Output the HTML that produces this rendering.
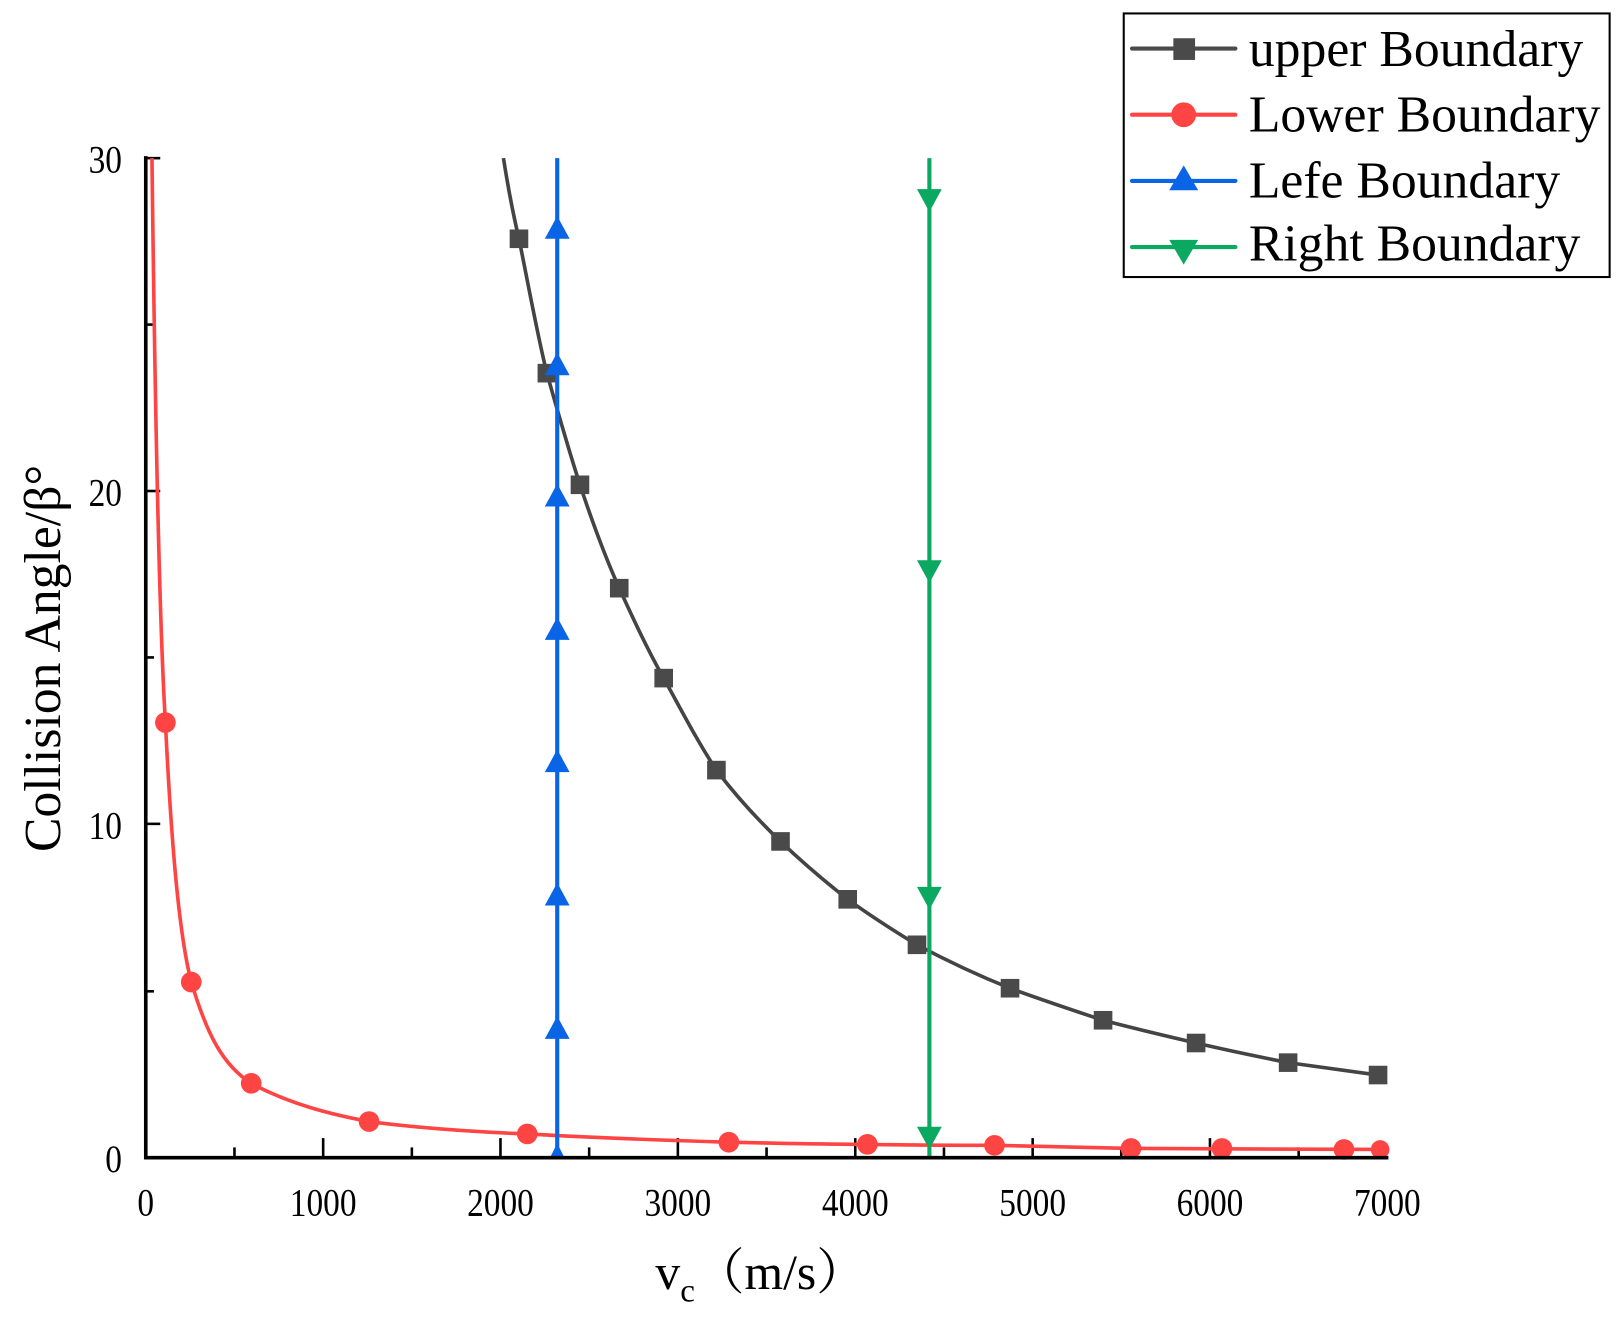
<!DOCTYPE html>
<html><head><style>html,body{margin:0;padding:0;background:#fff;}svg{display:block}</style></head>
<body>
<svg width="1621" height="1319" viewBox="0 0 1568 1276" preserveAspectRatio="none" xmlns="http://www.w3.org/2000/svg" font-family="'Liberation Serif', serif">
<rect width="1568" height="1276" fill="#fff"/>
<g stroke="#000" stroke-width="2.5">
<line x1="141" y1="153" x2="155" y2="153"/><line x1="141" y1="314" x2="149" y2="314"/>
<line x1="141" y1="475" x2="155" y2="475"/><line x1="141" y1="636" x2="149" y2="636"/>
<line x1="141" y1="797" x2="155" y2="797"/><line x1="141" y1="959" x2="149" y2="959"/>
<line x1="312.6" y1="1120" x2="312.6" y2="1101"/><line x1="484.1" y1="1120" x2="484.1" y2="1101"/>
<line x1="655.7" y1="1120" x2="655.7" y2="1101"/><line x1="827.3" y1="1120" x2="827.3" y2="1101"/>
<line x1="998.9" y1="1120" x2="998.9" y2="1101"/><line x1="1170.4" y1="1120" x2="1170.4" y2="1101"/>
<line x1="226.8" y1="1120" x2="226.8" y2="1110"/><line x1="398.4" y1="1120" x2="398.4" y2="1110"/>
<line x1="569.9" y1="1120" x2="569.9" y2="1110"/><line x1="741.5" y1="1120" x2="741.5" y2="1110"/>
<line x1="913.1" y1="1120" x2="913.1" y2="1110"/><line x1="1084.6" y1="1120" x2="1084.6" y2="1110"/>
<line x1="1256.2" y1="1120" x2="1256.2" y2="1110"/>
</g>
<path d="M487,153 C492,185 497,210 502,231 C512,280 520,325 529,361 C540,400 550,435 561,469 C573,505 585,538 599,569 C613,600 627,630 642,656 C658,685 675,718 693,745 C712,770 733,793 755,814 C776,834 797,852 820,870 C842,886 864,900 887,914 C917,930 947,944 977,956 C1007,967 1037,977 1067,987 C1097,995 1127,1002 1157,1009 C1187,1016 1216,1022 1246,1028 C1275,1032 1304,1036 1333,1040" fill="none" stroke="#444" stroke-width="3.5"/>
<g fill="#4a4a4a">
<rect x="493" y="222" width="18" height="18"/><rect x="520" y="352" width="18" height="18"/><rect x="552" y="460" width="18" height="18"/><rect x="590" y="560" width="18" height="18"/><rect x="633" y="647" width="18" height="18"/><rect x="684" y="736" width="18" height="18"/><rect x="746" y="805" width="18" height="18"/><rect x="811" y="861" width="18" height="18"/><rect x="878" y="905" width="18" height="18"/><rect x="968" y="947" width="18" height="18"/><rect x="1058" y="978" width="18" height="18"/><rect x="1148" y="1000" width="18" height="18"/><rect x="1237" y="1019" width="18" height="18"/><rect x="1324" y="1031" width="18" height="18"/>
</g>
<path d="M147,153 C150,400 154,600 160,699 C165,800 172,900 185,950 C200,1000 215,1030 243,1048 C280,1068 320,1078 357,1085 C410,1092 460,1095 510,1097 C580,1101 640,1103 705,1105 C750,1106 795,1107 839,1107 C880,1108 920,1108 962,1108 C1006,1109 1050,1110 1094,1111 C1150,1111 1240,1112 1340,1112" fill="none" stroke="#f44" stroke-width="3.5"/>
<g fill="#f44">
<circle cx="160" cy="699" r="10"/><circle cx="185" cy="950" r="10"/><circle cx="243" cy="1048" r="10"/><circle cx="357" cy="1085" r="10"/><circle cx="510" cy="1097" r="10"/><circle cx="705" cy="1105" r="10"/><circle cx="839" cy="1107" r="10"/><circle cx="962" cy="1108" r="10"/><circle cx="1094" cy="1111" r="10"/><circle cx="1182" cy="1111" r="10"/><circle cx="1300" cy="1112" r="10"/><circle cx="1335" cy="1112" r="9"/>
</g>
<line x1="539" y1="153" x2="539" y2="1120" stroke="#0a64e6" stroke-width="4"/>
<g fill="#0a64e6">
<path d="M539,209 l-12,22 h24z"/><path d="M539,341 l-12,22 h24z"/><path d="M539,468 l-12,22 h24z"/><path d="M539,597 l-12,22 h24z"/><path d="M539,725 l-12,22 h24z"/><path d="M539,854 l-12,22 h24z"/><path d="M539,983 l-12,22 h24z"/><path d="M539,1106 l-7,14 h14z"/>
</g>
<line x1="899" y1="153" x2="899" y2="1120" stroke="#0aa860" stroke-width="4"/>
<g fill="#0aa860">
<path d="M899,205 l-12,-22 h24z"/><path d="M899,564 l-12,-22 h24z"/><path d="M899,880 l-12,-22 h24z"/><path d="M899,1112 l-12,-22 h24z"/>
</g>
<line x1="141" y1="151" x2="141" y2="1121.5" stroke="#000" stroke-width="3.5"/>
<line x1="139.5" y1="1120" x2="1343" y2="1120" stroke="#000" stroke-width="3.5"/>
<g font-size="38" fill="#000">
<g text-anchor="end"><text transform="translate(118,167) scale(0.85,1)">30</text><text transform="translate(118,489) scale(0.85,1)">20</text><text transform="translate(118,811) scale(0.85,1)">10</text><text transform="translate(118,1134) scale(0.85,1)">0</text></g>
<g text-anchor="middle"><text transform="translate(141,1176) scale(0.85,1)">0</text><text transform="translate(312.6,1176) scale(0.85,1)">1000</text><text transform="translate(484.1,1176) scale(0.85,1)">2000</text><text transform="translate(655.7,1176) scale(0.85,1)">3000</text><text transform="translate(827.3,1176) scale(0.85,1)">4000</text><text transform="translate(998.9,1176) scale(0.85,1)">5000</text><text transform="translate(1170.4,1176) scale(0.85,1)">6000</text><text transform="translate(1342,1176) scale(0.85,1)">7000</text></g>
</g>
<text x="634" y="1247" font-size="48">v<tspan font-size="32" dy="12">c</tspan><tspan dy="-12" font-family="'Liberation Serif','Noto Serif CJK SC',serif">（m/s）</tspan></text>
<text transform="translate(58,637) rotate(-90)" font-size="50" text-anchor="middle">Collision Angle/β°</text>
<rect x="1087" y="13" width="470" height="255" fill="#fff" stroke="#000" stroke-width="2"/>
<g stroke-width="4" stroke-linecap="round">
<line x1="1095" y1="47" x2="1195" y2="47" stroke="#4a4a4a"/><line x1="1095" y1="111" x2="1195" y2="111" stroke="#f44"/><line x1="1095" y1="175" x2="1195" y2="175" stroke="#0a64e6"/><line x1="1095" y1="239" x2="1195" y2="239" stroke="#0aa860"/>
</g>
<rect x="1135" y="37" width="21" height="21" fill="#4a4a4a"/>
<circle cx="1145" cy="111" r="12" fill="#f44"/>
<path d="M1145,160 l-14,24 h28z" fill="#0a64e6"/>
<path d="M1145,256 l-14,-24 h28z" fill="#0aa860"/>
<g font-size="50" fill="#000">
<text x="1208" y="64">upper Boundary</text><text x="1208" y="127">Lower Boundary</text><text x="1208" y="191">Lefe Boundary</text><text x="1208" y="252">Right Boundary</text>
</g>
</svg>
</body></html>
